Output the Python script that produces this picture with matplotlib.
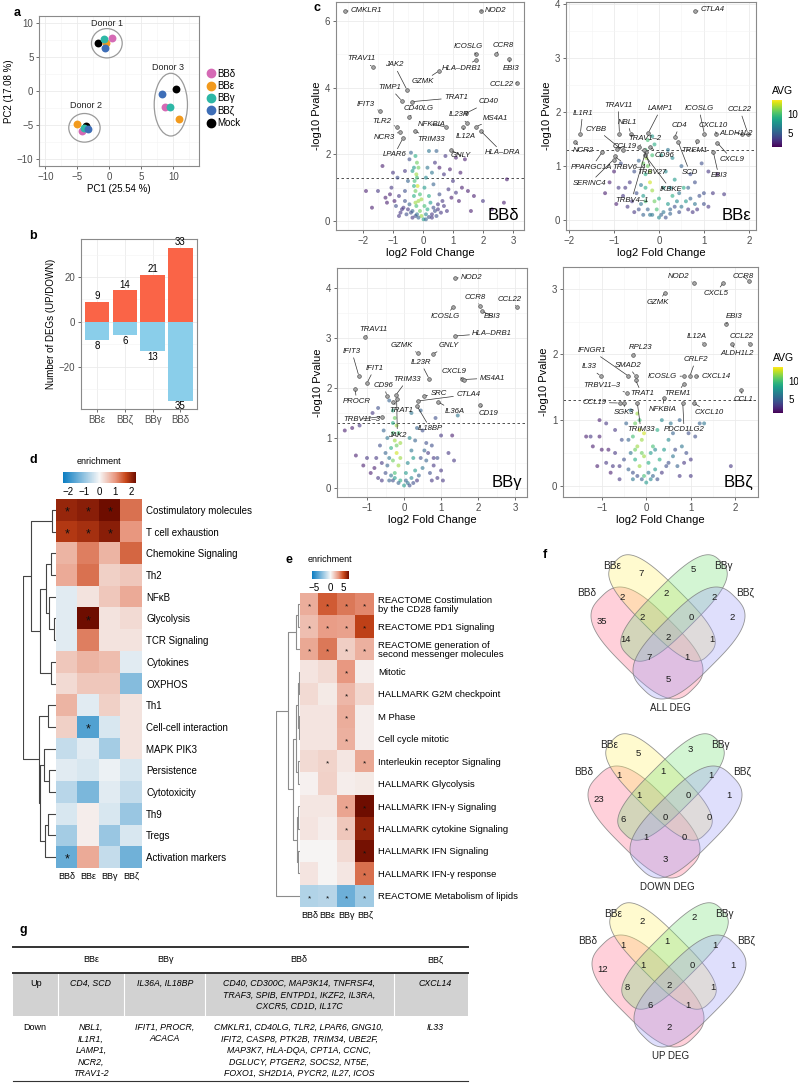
import numpy as np
import matplotlib.pyplot as plt
from matplotlib.colors import LinearSegmentedColormap, Normalize, TwoSlopeNorm
from matplotlib.patches import Ellipse, Polygon
from matplotlib.lines import Line2D
from matplotlib.ticker import AutoMinorLocator

plt.rcParams['font.family'] = ['Liberation Sans', 'DejaVu Sans']

W, H = 798, 1083

# ---------------- a: PCA ----------------
pca_groups = ['BBδ', 'BBε', 'BBγ', 'BBζ', 'Mock']
pca_colors = ['#D56AB5', '#F29A1D', '#2DB7A6', '#3E6EB7', '#000000']
pc1_donor1 = [0.4, -0.5, -0.8, -0.7, -1.8]
pc2_donor1 = [7.8, 7.1, 7.6, 6.3, 7.0]
pc1_donor2 = [-4.3, -5.1, -3.9, -3.3, -3.7]
pc2_donor2 = [-5.9, -4.8, -5.4, -5.6, -5.2]
pc1_donor3 = [8.7, 10.9, 9.5, 8.2, 10.4]
pc2_donor3 = [-2.3, -4.1, -2.3, -0.4, 0.3]
donor_names = ['Donor 1', 'Donor 2', 'Donor 3']

# ---------------- b: DEG counts ----------------
deg_groups = ['BBε', 'BBζ', 'BBγ', 'BBδ']
deg_up = [9, 14, 21, 33]
deg_down = [8, 6, 13, 35]

# ---------------- c: volcano plots (log2FC, -log10 p, AVG) ----------------
cloud_delta = [(-0.25, 1.95, 9), (-0.2, 1.75, 11), (-0.3, 1.6, 8), (-0.22, 1.4, 12), (-0.28, 1.2, 10),
               (-0.18, 1.05, 13), (-0.25, 0.9, 11), (-0.3, 0.75, 9), (-0.15, 0.6, 12), (-0.22, 0.45, 10),
               (-0.1, 0.3, 11), (-0.05, 0.15, 12), (0.02, 0.05, 8), (0.1, 0.2, 7), (0.15, 0.35, 9),
               (0.25, 0.55, 8), (0.2, 0.75, 9), (-0.9, 0.45, 4), (-0.7, 0.35, 3), (-0.55, 0.2, 4),
               (-0.45, 0.5, 5), (-0.6, 0.6, 4), (-0.35, 0.1, 3), (0.3, 0.1, 3), (0.4, 0.3, 4),
               (0.5, 0.5, 3), (0.45, 0.15, 4), (0.6, 0.25, 3), (0.65, 0.6, 3), (-1.1, 0.8, 2),
               (-1.25, 0.7, 2), (-1.5, 0.9, 3), (-1.05, 1.0, 3), (-1.35, 1.65, 2), (-1.0, 1.45, 3),
               (-0.85, 1.3, 4), (-0.6, 1.5, 3), (-0.45, 1.85, 4), (0.4, 1.75, 3), (0.55, 1.6, 2),
               (0.7, 1.4, 3), (0.9, 1.55, 2), (1.0, 1.2, 3), (1.3, 1.0, 2), (1.5, 0.9, 2),
               (1.7, 0.75, 2), (2.0, 0.6, 3), (2.3, 0.35, 2), (2.7, 0.55, 2), (1.1, 0.85, 3),
               (0.85, 0.95, 3), (1.25, 1.45, 2), (0.2, 2.1, 6), (0.45, 2.1, 5), (0.75, 1.95, 3),
               (1.1, 1.9, 2), (1.4, 1.85, 2), (-0.4, 2.05, 5), (2.8, 1.25, 2), (-0.8, 0.15, 3),
               (-0.2, 0.2, 6), (-0.35, 0.3, 5), (0.05, 0.45, 10), (-0.05, 0.65, 12),
               (-0.15, 0.1, 5), (-0.25, 0.15, 4), (0.1, 0.05, 5), (0.2, 0.12, 4), (0.3, 0.2, 3),
               (-0.4, 0.25, 4), (-0.5, 0.35, 3), (0.35, 0.4, 4), (0.5, 0.35, 3), (-0.65, 0.4, 3),
               (-0.75, 0.25, 3), (0.7, 0.45, 3), (0.8, 0.3, 3), (-0.95, 0.6, 2), (0.95, 0.7, 2),
               (-1.2, 0.55, 2), (1.2, 0.6, 2), (-0.3, 1.05, 9), (-0.2, 1.3, 10), (-0.35, 1.5, 8),
               (-0.15, 1.6, 11), (-0.25, 0.55, 12), (-0.1, 0.8, 10), (0.05, 1.0, 8), (0.1, 1.3, 7),
               (-0.5, 1.2, 5), (-0.6, 0.9, 4), (0.55, 0.8, 4), (0.35, 1.1, 5), (-0.8, 0.75, 3),
               (1.6, 0.3, 2), (-1.7, 0.4, 2), (-1.9, 0.9, 2), (0.15, 1.6, 6), (0.3, 1.45, 6)]
genes_delta = [('CMKLR1', -2.6, 6.3), ('NOD2', 1.93, 6.3), ('TRAV11', -1.67, 4.62), ('JAK2', -0.53, 3.93),
               ('TIMP1', -0.7, 3.6), ('TRAT1', -0.37, 3.58), ('ICOSLG', 1.77, 5.0), ('HLA–DRB1', 1.77, 4.83),
               ('GZMK', 0.53, 4.5), ('CCR8', 2.43, 5.0), ('EBI3', 2.87, 4.87), ('CCL22', 3.13, 4.15),
               ('CD40', 1.43, 3.23), ('IL23R', 1.47, 2.93), ('IL12A', 1.33, 2.83), ('MS4A1', 1.77, 2.83),
               ('HLA–DRA', 1.93, 2.7), ('IFIT3', -1.43, 3.3), ('CD40LG', -0.47, 3.12), ('TLR2', -0.87, 2.83),
               ('NFKBIA', 0.77, 2.82), ('NCR3', -0.77, 2.67), ('TRIM33', -0.27, 2.7), ('LPAR6', -0.67, 2.48),
               ('GNLY', 0.93, 2.13)]
labpos_delta = [(-1.88, 6.3), (2.43, 6.33), (-2.07, 4.86), (-0.96, 4.68), (-1.1, 4.0), (1.1, 3.7),
                (1.52, 5.23), (1.28, 4.58), (-0.01, 4.18), (2.67, 5.26), (2.94, 4.58), (2.62, 4.08),
                (2.2, 3.58), (1.2, 3.18), (1.43, 2.55), (2.43, 3.09), (2.66, 2.04), (-1.9, 3.5),
                (-0.13, 3.36), (-1.37, 2.98), (0.29, 2.91), (-1.3, 2.5), (0.27, 2.45), (-0.96, 1.98),
                (1.27, 1.96)]

cloud_eps = [(-0.3, 1.3, 10), (-0.28, 1.15, 12), (-0.25, 1.0, 11), (-0.3, 0.85, 9), (-0.2, 0.7, 13),
             (-0.15, 0.55, 12), (-0.35, 0.45, 8), (-0.1, 0.35, 11), (-0.05, 0.2, 10), (0.0, 0.05, 7),
             (0.1, 0.15, 6), (0.2, 0.3, 8), (0.3, 0.45, 9), (0.4, 0.35, 7), (0.5, 0.25, 6),
             (0.6, 0.35, 8), (0.7, 0.4, 5), (0.8, 0.3, 6), (0.9, 0.45, 4), (0.55, 0.6, 9),
             (0.35, 0.75, 8), (0.15, 0.9, 7), (-0.1, 1.4, 9), (0.05, 1.2, 8), (-0.5, 0.5, 4),
             (-0.6, 0.35, 3), (-0.7, 0.25, 3), (-0.8, 0.45, 3), (-0.45, 0.2, 4), (-0.35, 0.1, 5),
             (-0.55, 0.9, 4), (-0.65, 0.7, 3), (-0.9, 0.6, 3), (-1.0, 0.9, 2), (-1.2, 0.5, 2),
             (-0.85, 1.05, 4), (-0.45, 1.1, 5), (0.2, 1.3, 6), (0.5, 1.0, 5), (0.7, 0.85, 4),
             (1.0, 0.5, 4), (1.2, 0.5, 3), (1.45, 0.48, 3), (1.1, 0.9, 3), (0.95, 1.05, 4),
             (1.3, 0.85, 2), (-0.15, 1.55, 8), (-0.25, 1.48, 10), (0.3, 1.15, 7), (-0.2, 0.1, 6),
             (0.25, 0.12, 5), (-0.4, 0.3, 6),
             (-0.15, 0.1, 6), (0.05, 0.1, 5), (0.15, 0.05, 4), (-0.25, 0.2, 5), (0.25, 0.2, 5),
             (0.35, 0.25, 4), (0.45, 0.15, 4), (-0.55, 0.15, 3), (0.65, 0.2, 3), (0.75, 0.15, 3),
             (0.85, 0.2, 3), (-0.4, 0.65, 6), (-0.3, 0.6, 9), (-0.2, 0.9, 12), (-0.35, 1.05, 11),
             (-0.15, 1.2, 10), (0.1, 0.6, 8), (0.25, 0.6, 7), (0.45, 0.5, 6), (0.65, 0.6, 5),
             (0.8, 0.7, 4), (1.0, 0.3, 4), (1.1, 0.25, 3), (-0.75, 0.6, 3), (-0.95, 0.3, 2),
             (-1.1, 0.7, 2), (-0.3, 0.35, 10), (0.0, 0.4, 9)]
genes_eps = [('CTLA4', 0.81, 3.86), ('IL1R1', -1.75, 1.6), ('TRAV11', -0.88, 1.6), ('NBL1', -0.63, 1.6),
             ('LAMP1', -0.24, 1.61), ('CYBB', -0.81, 1.29), ('TRAV1–2', -0.45, 1.35), ('CCL19', -0.94, 1.32),
             ('NCR2', -1.87, 1.45), ('PPARGC1A', -1.26, 1.26), ('TRBV6–4', -0.99, 1.18), ('SERINC4', -1.01, 1.12),
             ('TRBV4–1', -0.3, 1.26), ('TRBV27', -0.33, 1.3), ('IKBKE', -0.31, 1.2), ('CD96', -0.21, 1.35),
             ('CD4', 0.35, 1.53), ('ICOSLG', 1.01, 1.6), ('CXCL10', 1.28, 1.6), ('CCL22', 1.98, 1.6),
             ('ALDH1L2', 1.84, 1.6), ('TREM1', 0.85, 1.46), ('SCD', 0.43, 1.44), ('EBI3', 1.21, 1.26),
             ('CXCL9', 1.3, 1.43)]
labpos_eps = [(1.2, 3.89), (-1.7, 1.98), (-0.91, 2.12), (-0.7, 1.81), (0.04, 2.06), (-1.39, 1.68),
              (-0.31, 1.51), (-0.76, 1.37), (-1.69, 1.28), (-1.5, 0.98), (-0.66, 0.98), (-1.55, 0.68),
              (-0.61, 0.37), (-0.15, 0.89), (0.26, 0.57), (0.13, 1.19), (0.46, 1.75), (0.89, 2.06),
              (1.2, 1.75), (1.8, 2.04), (1.71, 1.61), (0.8, 1.29), (0.69, 0.88), (1.33, 0.82),
              (1.63, 1.12)]

cloud_gamma = [(-0.3, 1.55, 9), (-0.25, 1.4, 11), (-0.2, 1.25, 12), (-0.3, 1.1, 10), (-0.25, 0.95, 12),
               (-0.35, 0.8, 9), (-0.2, 0.7, 13), (-0.3, 0.55, 11), (-0.15, 0.45, 12), (-0.25, 0.3, 10),
               (-0.1, 0.15, 9), (0.0, 0.05, 8), (0.1, 0.1, 6), (0.2, 0.2, 7), (0.3, 0.35, 8),
               (0.4, 0.25, 5), (0.5, 0.4, 6), (0.6, 0.55, 5), (0.7, 0.3, 4), (0.8, 0.45, 3),
               (0.9, 0.6, 4), (1.0, 0.35, 3), (1.05, 0.15, 3), (1.35, 0.55, 3), (0.55, 0.75, 5),
               (0.75, 0.85, 4), (-0.5, 0.3, 4), (-0.6, 0.5, 3), (-0.7, 0.2, 3), (-0.8, 0.4, 2),
               (-0.9, 0.3, 2), (-0.5, 0.7, 5), (-0.65, 0.85, 4), (-0.45, 1.0, 6), (-0.55, 1.15, 5),
               (-1.4, 1.2, 2), (-1.2, 1.25, 3), (-1.6, 1.15, 2), (-1.0, 0.6, 3), (-1.3, 0.65, 2),
               (-0.85, 1.5, 3), (-0.7, 1.6, 4), (-0.4, 1.75, 5), (0.2, 1.5, 6), (0.45, 1.55, 5),
               (0.85, 1.4, 4), (1.0, 1.05, 3), (1.3, 1.05, 2), (1.45, 1.45, 6), (0.35, 1.2, 5),
               (0.5, 1.15, 4), (0.15, 1.0, 7), (-0.4, 0.15, 5), (0.25, 0.6, 8), (-0.1, 0.9, 12),
               (-0.15, 0.1, 5), (0.05, 0.15, 5), (0.15, 0.05, 4), (-0.3, 0.15, 4), (0.25, 0.1, 4),
               (0.35, 0.15, 3), (-0.45, 0.45, 5), (-0.4, 0.6, 6), (-0.35, 0.25, 6), (0.45, 0.6, 4),
               (0.65, 0.7, 3), (0.75, 0.15, 3), (0.9, 0.2, 3), (-0.6, 0.15, 3), (-0.75, 0.6, 3),
               (-1.1, 0.45, 2), (1.2, 0.7, 3), (-0.2, 0.85, 11), (-0.15, 1.1, 10), (-0.3, 1.3, 9),
               (-0.25, 0.2, 8), (0.1, 0.5, 7), (0.2, 0.75, 6), (0.3, 0.95, 5), (0.05, 0.3, 8),
               (-0.1, 0.6, 12), (0.6, 0.9, 4), (0.8, 0.6, 3)]
genes_gamma = [('NOD2', 1.38, 4.2), ('CCR8', 2.05, 3.64), ('EBI3', 2.1, 3.54), ('CCL22', 3.05, 3.62),
               ('ICOSLG', 1.33, 3.62), ('HLA–DRB1', 1.38, 3.04), ('TRAV11', -1.05, 3.02), ('GZMK', 0.38, 2.7),
               ('GNLY', 0.78, 2.68), ('IFIT3', -1.22, 2.24), ('IFIT1', -1.0, 2.1), ('IL23R', 0.68, 2.18),
               ('CXCL9', 1.57, 2.18), ('MS4A1', 1.62, 2.17), ('TRIM33', -0.22, 1.86), ('CD96', -0.46, 1.84),
               ('SRC', 0.54, 1.84), ('CTLA4', 0.38, 1.74), ('PROCR', -1.32, 1.98), ('TRAT1', -0.3, 1.72),
               ('IL36A', 0.92, 1.72), ('CD19', 2.05, 1.66), ('TRBV11–3', -0.6, 1.43), ('IL18BP', 0.35, 1.64),
               ('JAK2', -0.2, 1.78)]
labpos_gamma = [(1.83, 4.21), (1.92, 3.81), (2.39, 3.43), (2.84, 3.78), (1.11, 3.43), (2.38, 3.1),
                (-0.84, 3.18), (-0.06, 2.85), (1.2, 2.85), (-1.41, 2.73), (-0.8, 2.39), (0.45, 2.51),
                (1.34, 2.33), (2.38, 2.2), (0.09, 2.17), (-0.55, 2.05), (0.93, 1.89), (1.73, 1.87),
                (-1.28, 1.73), (-0.07, 1.55), (1.38, 1.53), (2.27, 1.5), (-1.14, 1.38), (0.71, 1.19),
                (-0.18, 1.06)]

cloud_zeta = [(-0.2, 1.1, 12), (-0.25, 0.95, 11), (-0.15, 0.85, 13), (-0.3, 0.75, 10), (-0.2, 0.6, 12),
              (-0.1, 0.5, 11), (-0.25, 0.4, 9), (-0.15, 0.3, 12), (-0.05, 0.15, 10), (0.0, 0.05, 8),
              (0.1, 0.1, 7), (0.2, 0.25, 8), (0.3, 0.4, 9), (0.4, 0.55, 8), (0.5, 0.7, 7),
              (0.6, 0.45, 6), (0.7, 0.3, 5), (0.8, 0.6, 6), (0.9, 0.5, 4), (1.0, 0.4, 3),
              (0.25, 0.85, 9), (0.35, 1.0, 7), (0.55, 0.95, 6), (-0.4, 0.25, 5), (-0.5, 0.4, 4),
              (-0.6, 0.3, 3), (-0.7, 0.5, 3), (-0.8, 0.2, 2), (-0.9, 0.35, 3), (-1.0, 0.55, 2),
              (-1.1, 0.3, 2), (-0.55, 0.7, 4), (-0.7, 0.85, 3), (-0.45, 0.95, 5), (-1.35, 0.75, 2),
              (-1.25, 0.75, 3), (-1.2, 0.6, 2), (-0.9, 0.95, 3), (-1.05, 1.0, 2), (1.2, 0.95, 5),
              (1.3, 0.95, 6), (1.1, 0.75, 4), (1.0, 0.15, 3), (1.9, 0.3, 3), (0.75, 1.0, 5),
              (-0.35, 1.15, 6), (-0.3, 0.1, 6), (0.15, 0.6, 10), (-0.05, 0.8, 13),
              (-0.1, 0.1, 5), (0.05, 0.2, 6), (0.15, 0.15, 5), (-0.2, 0.15, 4), (-0.3, 0.2, 4),
              (0.25, 0.1, 4), (0.35, 0.2, 3), (0.45, 0.3, 4), (-0.35, 0.5, 6), (-0.4, 0.7, 5),
              (0.5, 0.35, 4), (0.65, 0.55, 4), (0.75, 0.15, 3), (-0.6, 0.1, 3), (-0.75, 0.3, 3),
              (-0.85, 0.55, 2), (-1.05, 0.75, 2), (0.85, 0.35, 3), (-0.1, 0.7, 12), (-0.25, 0.55, 11),
              (-0.15, 1.0, 10), (0.05, 0.35, 9), (0.1, 0.5, 8), (0.2, 0.55, 7), (-0.05, 0.45, 12),
              (0.6, 0.8, 5), (0.95, 0.8, 4)]
genes_zeta = [('NOD2', 1.07, 3.09), ('CCR8', 2.3, 3.12), ('CXCL5', 1.73, 3.09), ('GZMK', 0.42, 2.94),
              ('EBI3', 1.8, 2.47), ('IL12A', 1.29, 2.16), ('CCL22', 2.33, 2.16), ('ALDH1L2', 1.93, 2.16),
              ('RPL23', -0.29, 1.99), ('IFNGR1', -0.4, 1.67), ('SMAD2', -0.24, 1.67), ('IL33', -1.02, 1.67),
              ('ICOSLG', 0.84, 1.67), ('CRLF2', 0.98, 1.67), ('CXCL14', 1.11, 1.67), ('TRBV11–3', -0.44, 1.42),
              ('TRAT1', -0.24, 1.61), ('TREM1', 0.84, 1.55), ('CCL1', 2.13, 1.46), ('CCL19', -0.6, 1.26),
              ('SGK3', -0.49, 1.26), ('NFKBIA', 0.4, 1.34), ('CXCL10', 1.07, 1.26), ('TRIM33', -0.2, 1.26),
              ('PDCD1LG2', 0.82, 1.26)]
labpos_zeta = [(0.72, 3.19), (2.18, 3.19), (1.56, 2.93), (0.27, 2.79), (1.97, 2.58), (1.13, 2.28),
               (2.15, 2.28), (2.04, 2.01), (-0.13, 2.11), (-1.23, 2.06), (-0.41, 1.83), (-1.29, 1.81),
               (0.37, 1.66), (1.11, 1.92), (1.56, 1.66), (-1.0, 1.52), (-0.1, 1.4), (0.69, 1.4),
               (2.18, 1.31), (-1.16, 1.27), (-0.5, 1.11), (0.36, 1.16), (1.42, 1.11), (-0.12, 0.85),
               (0.85, 0.85)]

# ---------------- d: gene set enrichment ----------------
hm_cols = ['BBδ', 'BBε', 'BBγ', 'BBζ']
d_rows = ['Costimulatory molecules', 'T cell exhaustion', 'Chemokine Signaling', 'Th2', 'NFκB',
          'Glycolysis', 'TCR Signaling', 'Cytokines', 'OXPHOS', 'Th1', 'Cell-cell interaction',
          'MAPK PIK3', 'Persistence', 'Cytotoxicity', 'Th9', 'Tregs', 'Activation markers']
d_vals = [[2.0, 2.1, 2.3, 1.3], [1.8, 1.9, 2.1, 1.0], [0.7, 1.2, 0.7, 1.4], [0.8, 1.3, 0.4, 0.5],
          [-0.2, 0.2, 0.5, 0.8], [-0.2, 2.3, 0.2, 0.3], [-0.2, 1.2, 0.2, 0.2], [0.5, 0.7, 0.6, -0.2],
          [0.3, 0.5, 0.5, -1.1], [0.7, -0.2, 0.4, 0.2], [0.4, -1.6, -0.3, 0.2], [-0.5, -0.2, -0.8, 0.2],
          [-0.2, -0.3, -0.1, -0.3], [-0.6, -1.2, -0.2, -0.5], [-0.3, 0.1, -0.3, -0.9],
          [-0.8, 0.1, -0.9, -0.3], [-1.4, 0.8, -0.5, -1.3]]
d_sig = [[1, 1, 1, 0], [1, 1, 1, 0], [0, 0, 0, 0], [0, 0, 0, 0], [0, 0, 0, 0], [0, 1, 0, 0],
         [0, 0, 0, 0], [0, 0, 0, 0], [0, 0, 0, 0], [0, 0, 0, 0], [0, 1, 0, 0], [0, 0, 0, 0],
         [0, 0, 0, 0], [0, 0, 0, 0], [0, 0, 0, 0], [0, 0, 0, 0], [1, 0, 0, 0]]
d_tree = (((0, 1, 1.2), (((2, 3, 1.6), (4, (5, 6, 0.6), 2.2), 3.1), (7, 8, 1.6), 4.7), 7.5),
          ((9, 10, 2.5), ((11, (12, 13, 2.2), 3.75), ((14, 15, 2.5), 16, 3.4), 4.7), 5.3), 10)

# ---------------- e: pathway enrichment ----------------
e_rows = ['REACTOME Costimulation\nby the CD28 family', 'REACTOME PD1 Signaling',
          'REACTOME generation of\nsecond messenger molecules', 'Mitotic', 'HALLMARK G2M checkpoint',
          'M Phase', 'Cell cycle mitotic', 'Interleukin receptor Signaling', 'HALLMARK Glycolysis',
          'HALLMARK IFN-γ Signaling', 'HALLMARK cytokine Signaling', 'HALLMARK IFN Signaling',
          'HALLMARK IFN-γ response', 'REACTOME Metabolism of lipids']
e_vals = [[2.3, 4.5, 3.8, 3.4], [1.8, 2.8, 2.7, 5.2], [2.5, 3.8, 1.3, 2.2], [0.6, 0.9, 3.0, 0.3],
          [0.9, 0.4, 2.0, 1.0], [0.6, 0.6, 2.3, 0.3], [0.6, 0.6, 2.2, 0.3], [0.9, 1.1, 0.5, 2.5],
          [0.2, 1.2, 0.3, 0.4], [0.5, 0.5, 2.6, 7.0], [0.6, 0.3, 1.5, 6.2], [0.1, 0.1, 0.9, 6.8],
          [0.6, 0.1, 0.5, 4.0], [-1.6, -1.5, -3.2, -2.0]]
e_sig = [[1, 1, 1, 1], [1, 1, 1, 1], [1, 1, 1, 1], [0, 0, 1, 0], [0, 0, 1, 0], [0, 0, 1, 0],
         [0, 0, 1, 0], [0, 1, 0, 1], [0, 0, 0, 0], [0, 0, 1, 1], [0, 0, 1, 1], [0, 0, 0, 1],
         [0, 0, 0, 1], [1, 1, 1, 1]]
e_tree = ((((0, 1, 0.8), 2, 1.5), ((((3, 4, 0.6), (5, 6, 0.3), 1.0), (7, 8, 1.0), 1.5),
                                   ((9, 10, 0.8), (11, 12, 0.9), 1.4), 3.0), 5.0), 13, 10)

# ---------------- f: Venn counts ----------------
venn_regions = ['d', 'e', 'g', 'z', 'de', 'eg', 'gz', 'deg', 'egz', 'dg', 'degz', 'ez', 'dgz', 'dez', 'dz']
venn_all = [35, 7, 5, 2, 2, 2, 2, 2, 0, 14, 2, 1, 7, 1, 5]
venn_down = [23, 5, 3, 1, 1, 1, 1, 1, 0, 6, 0, 0, 1, 0, 3]
venn_up = [12, 2, 2, 1, 1, 1, 1, 1, 0, 8, 2, 1, 6, 1, 2]
venn_titles = ['ALL DEG', 'DOWN DEG', 'UP DEG']

# ---------------- g: table ----------------
tab_cols = ['BBε', 'BBγ', 'BBδ', 'BBζ']
tab_up = ['CD4, SCD', 'IL36A, IL18BP',
          'CD40, CD300C, MAP3K14, TNFRSF4,\nTRAF3, SPIB, ENTPD1, IKZF2, IL3RA,\nCXCR5, CD1D, IL17C', 'CXCL14']
tab_down = ['NBL1,\nIL1R1,\nLAMP1,\nNCR2,\nTRAV1-2', 'IFIT1, PROCR,\nACACA',
            'CMKLR1, CD40LG, TLR2, LPAR6, GNG10,\nIFIT2, CASP8, PTK2B, TRIM34, UBE2F,\n'
            'MAP3K7, HLA-DQA, CPT1A, CCNC,\nDGLUCY, PTGER2, SOCS2, NT5E,\nFOXO1, SH2D1A, PYCR2, IL27, ICOS',
            'IL33']


# ================= drawing =================
fig = plt.figure(figsize=(W / 100, H / 100), dpi=100)
lay = fig.add_axes([0, 0, 1, 1])
lay.set_xlim(0, W)
lay.set_ylim(H, 0)
lay.axis('off')


def box(x0, y0, x1, y1):
    return [x0 / W, 1 - y1 / H, (x1 - x0) / W, (y1 - y0) / H]


def gg_style(ax, xminor=True, yminor=True):
    ax.set_axisbelow(True)
    if xminor:
        ax.xaxis.set_minor_locator(AutoMinorLocator(2))
    if yminor:
        ax.yaxis.set_minor_locator(AutoMinorLocator(2))
    ax.grid(which='major', color='#EBEBEB', lw=0.6)
    ax.grid(which='minor', color='#F4F4F4', lw=0.4)
    ax.tick_params(which='major', length=2.5, width=0.5, color='#333333',
                   labelsize=7, labelcolor='#4D4D4D', pad=1.5)
    ax.tick_params(which='minor', length=0)
    for s in ax.spines.values():
        s.set_color('#8A8A8A')
        s.set_linewidth(0.8)


# panel letters
for letter, (lx, ly) in zip('abcdefg', [(17, 13), (33, 236), (317, 8), (33, 460), (289, 560),
                                        (545, 555), (23, 930)]):
    lay.text(lx, ly, letter, fontsize=9, fontweight='bold', ha='center', va='center')

# ---- a ----
axa = fig.add_axes(box(39, 16, 199, 166))
for pc1, pc2 in [(pc1_donor1, pc2_donor1), (pc1_donor2, pc2_donor2), (pc1_donor3, pc2_donor3)]:
    for i in [4, 1, 0, 2, 3]:
        axa.scatter(pc1[i], pc2[i], s=32, color=pca_colors[i], zorder=3, linewidths=0)
for (cx, cy, w, h), name, (tx, ty) in zip([(-0.4, 7.0, 4.8, 4.3), (-3.9, -5.4, 4.9, 4.2), (9.6, -2.0, 5.2, 9.2)],
                                          donor_names, [(-0.4, 9.9), (-3.7, -2.2), (9.2, 3.5)]):
    axa.add_patch(Ellipse((cx, cy), w, h, fill=False, ec='#9A9A9A', lw=0.9, zorder=2))
    axa.text(tx, ty, name, fontsize=6.5, ha='center', va='center', color='#222222')
axa.set_xlim(-11, 14)
axa.set_ylim(-11, 11)
axa.set_xticks([-10, -5, 0, 5, 10])
axa.set_yticks([-10, -5, 0, 5, 10])
gg_style(axa)
axa.set_xlabel('PC1 (25.54 %)', fontsize=7, labelpad=2)
axa.set_ylabel('PC2 (17.08 %)', fontsize=7, labelpad=2)
handles = [Line2D([], [], marker='o', ls='', color=c, markersize=6) for c in pca_colors]
axa.legend(handles, pca_groups, loc='center left', bbox_to_anchor=(1.02, 0.45), frameon=False,
           fontsize=7, handletextpad=0.1, labelspacing=0.25, handlelength=1.0, borderaxespad=0)

# ---- b ----
axb = fig.add_axes(box(81, 239, 197, 409))
xb = np.arange(1, len(deg_groups) + 1)
bu = axb.bar(xb, deg_up, width=0.88, color='#FA6447', zorder=2)
bd = axb.bar(xb, [-v for v in deg_down], width=0.88, color='#8ACEEA', zorder=2)
axb.bar_label(bu, fontsize=7, padding=0.5)
axb.bar_label(bd, labels=[str(v) for v in deg_down], fontsize=7, padding=0.5)
axb.set_xticks(xb)
axb.set_xticklabels(deg_groups)
axb.set_xlim(0.42, 4.6)
axb.set_ylim(-38.7, 36.9)
axb.set_yticks([-20, 0, 20])
gg_style(axb, xminor=False)
axb.set_ylabel('Number of DEGs (UP/DOWN)', fontsize=7, labelpad=2)

# ---- c ----
avg_norm = Normalize(1, 14)


def volcano(rect, cloud, genes, labpos, tag, xlim, ylim, xticks, yticks, cbar=None):
    ax = fig.add_axes(box(*rect))
    fc, p, avg = zip(*cloud)
    sc = ax.scatter(fc, p, c=avg, cmap='viridis', norm=avg_norm, s=8, alpha=0.6, linewidths=0, zorder=2)
    ax.axhline(1.3, color='#333333', lw=0.6, ls=(0, (3, 3)), zorder=1)
    gx = [g[1] for g in genes]
    gy = [g[2] for g in genes]
    ax.scatter(gx, gy, s=7, color='#A8A8A8', edgecolors='#555555', linewidths=0.5, zorder=4)
    for (name, x, y), (lx, ly) in zip(genes, labpos):
        ax.annotate(name, xy=(x, y), xytext=(lx, ly), fontsize=5.6, style='italic', ha='center',
                    va='center', color='#1A1A1A', zorder=5,
                    arrowprops=dict(arrowstyle='-', lw=0.5, color='#333333', shrinkA=0, shrinkB=1.5))
    ax.set_xlim(*xlim)
    ax.set_ylim(*ylim)
    ax.set_xticks(xticks)
    ax.set_yticks(yticks)
    gg_style(ax)
    ax.set_xlabel('log2 Fold Change', fontsize=8, labelpad=1.5)
    ax.set_ylabel('-log10 Pvalue', fontsize=8, labelpad=2)
    ax.text(0.975, 0.03, tag, transform=ax.transAxes, ha='right', va='bottom', fontsize=12, zorder=6)
    if cbar is not None:
        cax = fig.add_axes(box(*cbar))
        cb = fig.colorbar(sc, cax=cax)
        cb.solids.set_alpha(1)
        cb.outline.set_visible(False)
        cb.set_ticks([5, 10])
        cax.tick_params(labelsize=7, length=2, color='white', pad=2)
        cax.set_title('AVG', fontsize=7.5, loc='left', pad=4)
    return ax


volcano((336, 2, 524, 230), cloud_delta, genes_delta, labpos_delta, 'BBδ',
        (-2.9, 3.37), (-0.27, 6.57), [-2, -1, 0, 1, 2, 3], [0, 2, 4, 6])
volcano((566, 2, 756, 230), cloud_eps, genes_eps, labpos_eps, 'BBε',
        (-2.07, 2.16), (-0.18, 4.03), [-2, -1, 0, 1, 2], [0, 1, 2, 3, 4], cbar=(772, 100, 782, 147))
volcano((337, 268, 527, 497), cloud_gamma, genes_gamma, labpos_gamma, 'BBγ',
        (-1.81, 3.32), (-0.18, 4.4), [-1, 0, 1, 2, 3], [0, 1, 2, 3, 4])
volcano((563, 267, 758, 497), cloud_zeta, genes_zeta, labpos_zeta, 'BBζ',
        (-1.87, 2.51), (-0.17, 3.33), [-1, 0, 1, 2], [0, 1, 2, 3], cbar=(773, 367, 783, 413))

# ---- d / e heatmaps ----
enrich_cmap = LinearSegmentedColormap.from_list(
    'enrich', [(0, '#0B7DC2'), (0.5, '#F7F7F7'), (0.72, '#E8967E'), (0.86, '#C8471A'), (1, '#6E0D00')])


def dendro(ax, node, color):
    if isinstance(node, int):
        return node, 0.0
    left, right, h = node
    y1, h1 = dendro(ax, left, color)
    y2, h2 = dendro(ax, right, color)
    ax.plot([h1, h, h, h2], [y1, y1, y2, y2], color=color, lw=0.8, solid_capstyle='butt')
    return (y1 + y2) / 2, h


def heatmap(cells, tree_box, rows, vals, sig, tree, norm, cbar_box, cbar_ticks, title_xy,
            star_size, tree_color, rowfs):
    n = len(rows)
    ax = fig.add_axes(box(*cells))
    im = ax.imshow(np.array(vals), cmap=enrich_cmap, norm=norm, aspect='auto')
    for r in range(n):
        for c in range(len(hm_cols)):
            if sig[r][c]:
                ax.text(c, r + 0.12, '*', ha='center', va='center', fontsize=star_size, color='#111111')
    ax.yaxis.tick_right()
    ax.set_yticks(range(n))
    ax.set_yticklabels(rows, fontsize=rowfs, linespacing=1.0)
    ax.set_xticks(range(len(hm_cols)))
    ax.set_xticklabels(hm_cols, fontsize=6.5)
    ax.tick_params(length=0, pad=3)
    for s in ax.spines.values():
        s.set_visible(False)
    tax = fig.add_axes(box(*tree_box))
    dendro(tax, tree, tree_color)
    tax.set_xlim(10, 0)
    tax.set_ylim(n - 0.5, -0.5)
    tax.axis('off')
    cax = fig.add_axes(box(*cbar_box))
    cb = fig.colorbar(im, cax=cax, orientation='horizontal')
    cb.outline.set_visible(False)
    cb.set_ticks(cbar_ticks)
    cax.tick_params(labelsize=7, length=2, color='white', pad=1)
    lay.text(title_xy[0], title_xy[1], 'enrichment', fontsize=6.5, ha='center', va='center')


heatmap((56, 499, 142, 868), (23, 499, 56, 868), d_rows, d_vals, d_sig, d_tree,
        Normalize(-2.3, 2.3), (63, 472, 136, 483), [-2, -1, 0, 1, 2], (99, 462), 9, '#444444', 7)
heatmap((300, 593, 374, 907), (276, 593, 300, 907), e_rows, e_vals, e_sig, e_tree,
        TwoSlopeNorm(0, -5.5, 7.0), (312, 571, 349, 579), [-5, 0, 5], (330, 560), 6, '#8C8C8C', 6.8)

# ---- f: Venn diagrams ----
venn_shapes = [(-21, -5, -45, 65, 32, '#FF6F8E'),   # BBδ
               (-6, 30, -45, 66, 24, '#FFF06A'),    # BBε
               (6, 30, 45, 66, 24, '#78E078'),      # BBγ
               (21, -5, 45, 65, 32, '#9C9CF6')]     # BBζ
venn_region_xy = {'d': (-66, -17), 'e': (-27, -64), 'g': (25, -68), 'z': (64, -21), 'de': (-46, -41),
                  'eg': (-2, -45), 'gz': (46, -41), 'deg': (-26, -21), 'egz': (23, -21), 'dg': (-42, 2),
                  'degz': (0, 0), 'ez': (44, 1), 'dgz': (-19, 20), 'dez': (19, 20), 'dz': (0, 42)}
venn_set_lab = [('BBδ', (-81, -45)), ('BBε', (-56, -72)), ('BBγ', (55, -72)), ('BBζ', (77, -45))]
t = np.linspace(0, 2 * np.pi, 240)
for (vx, vy), counts, title in zip([(668, 638), (665, 817), (669, 986)],
                                   [venn_all, venn_down, venn_up], venn_titles):
    for sx, sy, ang, a, b, col in venn_shapes:
        u = a * np.sign(np.cos(t)) * np.abs(np.cos(t)) ** (2 / 3)
        v = b * np.sign(np.sin(t)) * np.abs(np.sin(t)) ** (2 / 3)
        th = np.deg2rad(ang)
        px = vx + sx + u * np.cos(th) - v * np.sin(th)
        py = vy - (sy + u * np.sin(th) + v * np.cos(th))
        lay.add_patch(Polygon(np.column_stack([px, py]), closed=True, fc=col, alpha=0.32, ec='none'))
        lay.add_patch(Polygon(np.column_stack([px, py]), closed=True, fill=False, ec='#7A7A7A', lw=0.6,
                              alpha=0.8))
    for key, cnt in zip(venn_regions, counts):
        dx, dy = venn_region_xy[key]
        lay.text(vx + dx, vy + dy, str(cnt), fontsize=6.8, ha='center', va='center', color='#1A1A1A')
    for name, (dx, dy) in venn_set_lab:
        lay.text(vx + dx, vy + dy, name, fontsize=7.2, ha='center', va='center', color='#222222')
    lay.text(vx + 2, vy + 70, title, fontsize=7, ha='center', va='center', color='#222222')

# ---- g: table ----
col_x = [91, 165, 299, 435]
sep_x = [58, 124, 205, 394]
lay.add_patch(plt.Rectangle((13, 973), 455, 43, fc='#D2D2D2', ec='none'))
for sx in sep_x:
    lay.plot([sx, sx], [973, 1016], color='white', lw=0.8)
lay.plot([13, 468], [947, 947], color='#333333', lw=1.4)
lay.plot([13, 468], [973, 973], color='#333333', lw=1.4)
lay.plot([13, 468], [1081, 1081], color='#333333', lw=0.8)
for cx, name in zip(col_x, tab_cols):
    lay.text(cx, 960, name, fontsize=6.5, ha='center', va='center')
lay.text(36, 979, 'Up', fontsize=6.5, ha='center', va='top')
lay.text(35, 1023, 'Down', fontsize=6.5, ha='center', va='top')
for cx, up, down in zip(col_x, tab_up, tab_down):
    lay.text(cx, 979, up, fontsize=6.3, style='italic', ha='center', va='top', linespacing=1.35)
    lay.text(cx, 1023, down, fontsize=6.3, style='italic', ha='center', va='top', linespacing=1.35)

fig.savefig('out.png', dpi=100)
